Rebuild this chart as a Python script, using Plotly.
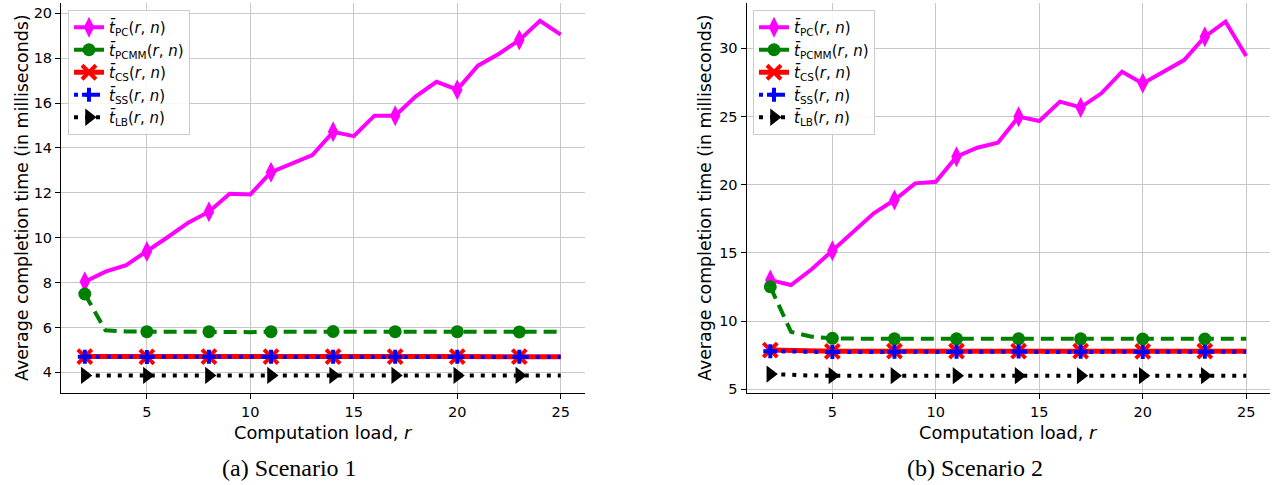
import plotly.graph_objects as go

# ---------------- data ----------------
r = list(range(2, 26))
tick_x = [5, 10, 15, 20, 25]

# Scenario 1
pc1 = [8.04, 8.49, 8.78, 9.38, 10.02, 10.67, 11.16, 11.96, 11.93, 12.92, 13.30, 13.68,
       14.72, 14.53, 15.44, 15.44, 16.30, 16.95, 16.60, 17.67, 18.19, 18.81, 19.67, 19.05]
pcmm1 = [7.49, 5.87, 5.82, 5.81, 5.81, 5.81, 5.81, 5.80, 5.79, 5.81, 5.81, 5.82,
         5.82, 5.82, 5.81, 5.81, 5.81, 5.81, 5.81, 5.81, 5.80, 5.80, 5.81, 5.81]
cs1 = [4.70, 4.69, 4.70, 4.69, 4.70, 4.70, 4.70, 4.69, 4.69, 4.70, 4.70, 4.70,
       4.70, 4.71, 4.71, 4.70, 4.70, 4.70, 4.70, 4.70, 4.70, 4.70, 4.69, 4.69]
ss1 = [4.69, 4.68, 4.69, 4.68, 4.69, 4.69, 4.69, 4.68, 4.68, 4.69, 4.69, 4.69,
       4.69, 4.70, 4.70, 4.69, 4.69, 4.69, 4.69, 4.69, 4.69, 4.69, 4.68, 4.68]
lb1 = [3.86, 3.86, 3.86, 3.86, 3.86, 3.86, 3.86, 3.86, 3.86, 3.86, 3.86, 3.86,
       3.86, 3.86, 3.86, 3.86, 3.86, 3.86, 3.86, 3.86, 3.86, 3.86, 3.86, 3.86]

# Scenario 2
pc2 = [13.01, 12.65, 13.80, 15.16, 16.50, 17.90, 18.88, 20.10, 20.22, 22.05, 22.71, 23.08,
       24.99, 24.67, 26.09, 25.67, 26.70, 28.29, 27.43, 28.29, 29.14, 30.85, 31.95, 29.44]
pcmm2 = [12.52, 9.22, 8.86, 8.74, 8.72, 8.70, 8.70, 8.70, 8.70, 8.70, 8.70, 8.70,
         8.71, 8.70, 8.70, 8.70, 8.70, 8.69, 8.69, 8.69, 8.69, 8.69, 8.70, 8.70]
cs2 = [7.88, 7.82, 7.80, 7.79, 7.79, 7.80, 7.80, 7.80, 7.79, 7.80, 7.80, 7.80,
       7.80, 7.80, 7.80, 7.80, 7.80, 7.80, 7.79, 7.80, 7.80, 7.80, 7.80, 7.80]
ss2 = [7.80, 7.76, 7.74, 7.73, 7.73, 7.76, 7.76, 7.76, 7.74, 7.76, 7.76, 7.76,
       7.77, 7.74, 7.75, 7.76, 7.76, 7.76, 7.74, 7.76, 7.76, 7.76, 7.76, 7.76]
lb2 = [6.12, 6.03, 6.01, 6.00, 6.00, 6.00, 6.00, 6.00, 6.00, 6.00, 6.00, 6.00,
       6.00, 6.00, 6.00, 6.00, 6.00, 6.00, 6.00, 6.00, 6.00, 6.00, 6.00, 6.00]

names = ["PC", "PCMM", "CS", "SS", "LB"]
captions = ["(a) Scenario 1", "(b) Scenario 2"]
ytick1 = [4, 6, 8, 10, 12, 14, 16, 18, 20]
ytick2 = [5, 10, 15, 20, 25, 30]

# ---------------- styles ----------------
styles = [
    dict(color="#ff00ff", width=4, dash="solid",
         marker=dict(symbol="diamond-tall", size=15, color="#ff00ff", line=dict(width=0))),
    dict(color="#008000", width=4, dash="13px,7px",
         marker=dict(symbol="circle", size=13, color="#008000", line=dict(width=0))),
    dict(color="#ff0000", width=5, dash="solid",
         marker=dict(symbol="x-thin", size=14, color="#ff0000", line=dict(width=4, color="#ff0000"))),
    dict(color="#0000ff", width=4, dash="4px,7px",
         marker=dict(symbol="cross-thin", size=10, color="#0000ff", line=dict(width=4, color="#0000ff"))),
    dict(color="#000000", width=4, dash="4px,7px",
         marker=dict(symbol="triangle-right", size=15, color="#000000", line=dict(width=0))),
]

W, H = 1283, 485
fig = go.Figure()

panels = [
    dict(series=[pc1, pcmm1, cs1, ss1, lb1], xa="x", ya="y", leg="legend"),
    dict(series=[pc2, pcmm2, cs2, ss2, lb2], xa="x2", ya="y2", leg="legend2"),
]

for p in panels:
    for name, ys, st in zip(names, p["series"], styles):
        fig.add_trace(go.Scatter(x=r, y=ys, mode="lines", xaxis=p["xa"], yaxis=p["ya"],
                                 line=dict(color=st["color"], width=st["width"], dash=st["dash"]),
                                 showlegend=False, hoverinfo="skip"))
        fig.add_trace(go.Scatter(x=r[::3], y=ys[::3], mode="markers", xaxis=p["xa"], yaxis=p["ya"],
                                 marker=st["marker"], showlegend=False, hoverinfo="skip"))
    for name, st in zip(names, styles):
        fig.add_trace(go.Scatter(x=[None], y=[None], mode="lines+markers", xaxis=p["xa"], yaxis=p["ya"],
                                 line=dict(color=st["color"], width=st["width"], dash=st["dash"]),
                                 marker=st["marker"], legend=p["leg"],
                                 name=f"<i>t̄</i><sub>{name}</sub>(<i>r</i>, <i>n</i>)"))

tickfont = dict(family="DejaVu Sans", size=14.5, color="#000000")
axis_common = dict(showgrid=True, gridcolor="#c8c8c8", gridwidth=1, showline=True,
                   linecolor="#000000", linewidth=1, ticks="outside", ticklen=5,
                   tickcolor="#000000", tickfont=tickfont, zeroline=False, mirror=False,
                   automargin=False)

ytop = 1 - 3.3 / H
ybot = 1 - 393.3 / H
legend_common = dict(xanchor="left", yanchor="top",
                     bgcolor="rgba(255,255,255,0.85)", bordercolor="#cccccc", borderwidth=1,
                     font=dict(family="DejaVu Sans", size=15, color="#000000"),
                     itemwidth=30, tracegroupgap=0)
fig.update_layout(
    width=W, height=H, margin=dict(l=0, r=0, t=0, b=0, autoexpand=False),
    paper_bgcolor="white", plot_bgcolor="white",
    xaxis=dict(domain=[61 / W, 584.5 / W], range=[0.85, 26.15], tickvals=tick_x, anchor="y", **axis_common),
    yaxis=dict(domain=[ybot, ytop], range=[3.064, 20.45], tickvals=ytick1, anchor="x", **axis_common),
    xaxis2=dict(domain=[746.5 / W, 1270 / W], range=[0.85, 26.15], tickvals=tick_x, anchor="y2", **axis_common),
    yaxis2=dict(domain=[ybot, ytop], range=[4.71, 33.3], tickvals=ytick2, anchor="x2", **axis_common),
    legend=dict(x=68 / W, y=1 - 10 / H, **legend_common),
    legend2=dict(x=753 / W, y=1 - 10 / H, **legend_common),
)

annots = []
for ytx, xtx in [(22, 323), (705, 1008.5)]:
    annots.append(dict(text="Average completion time (in milliseconds)", x=ytx / W, y=1 - 198 / H,
                       xref="paper", yref="paper", showarrow=False, textangle=-90,
                       xanchor="center", yanchor="middle",
                       font=dict(family="DejaVu Sans", size=17.4, color="#000000")))
    annots.append(dict(text="Computation load, <i>r</i>", x=xtx / W, y=1 - 432 / H,
                       xref="paper", yref="paper", showarrow=False,
                       xanchor="center", yanchor="middle",
                       font=dict(family="DejaVu Sans", size=17.8, color="#000000")))
for cap, cap_x in zip(captions, [289, 975]):
    annots.append(dict(text=cap, x=cap_x / W, y=1 - 468 / H, xref="paper", yref="paper",
                       showarrow=False, xanchor="center", yanchor="middle",
                       font=dict(family="Liberation Serif", size=24, color="#000000")))
fig.update_layout(annotations=annots)

fig.write_html("out.html", config={"displayModeBar": False},
               post_script="document.body.style.margin='0px';document.body.style.padding='0px';")
